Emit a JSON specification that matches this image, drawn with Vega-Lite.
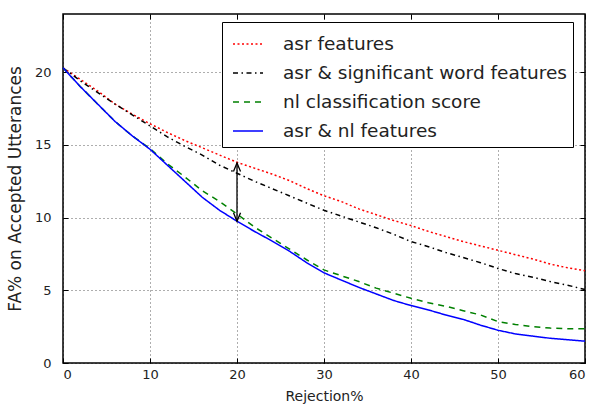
{
"$schema": "https://vega.github.io/schema/vega-lite/v6.json",
"width": 522, "height": 349,
"autosize": {"type": "none"},
"padding": {"left": 63, "top": 14, "right": 11, "bottom": 42},
"config": {
  "view": {"stroke": "black", "strokeWidth": 1.5},
  "font": "DejaVu Sans",
  "axis": {"domain": false, "tickColor": "black", "tickSize": -5, "tickWidth": 1, "labelColor": "#222", "labelFontSize": 13, "titleFontSize": 14, "titleFontWeight": "normal", "titleColor": "#222", "labelFont": "DejaVu Sans", "titleFont": "DejaVu Sans"}
},
"datasets": {
  "curves": [
    {"x":0,"y":20.3,"s":"asr features"},{"x":2,"y":19.5,"s":"asr features"},{"x":4,"y":18.7,"s":"asr features"},{"x":6,"y":17.8,"s":"asr features"},{"x":8,"y":17.1,"s":"asr features"},{"x":10,"y":16.45,"s":"asr features"},{"x":12,"y":15.85,"s":"asr features"},{"x":14,"y":15.3,"s":"asr features"},{"x":16,"y":14.8,"s":"asr features"},{"x":18,"y":14.3,"s":"asr features"},{"x":20,"y":13.8,"s":"asr features"},{"x":22,"y":13.4,"s":"asr features"},{"x":24,"y":13.0,"s":"asr features"},{"x":26,"y":12.55,"s":"asr features"},{"x":28,"y":12.0,"s":"asr features"},{"x":30,"y":11.5,"s":"asr features"},{"x":32,"y":11.1,"s":"asr features"},{"x":34,"y":10.6,"s":"asr features"},{"x":36,"y":10.2,"s":"asr features"},{"x":38,"y":9.8,"s":"asr features"},{"x":40,"y":9.45,"s":"asr features"},{"x":42,"y":9.05,"s":"asr features"},{"x":44,"y":8.7,"s":"asr features"},{"x":46,"y":8.35,"s":"asr features"},{"x":48,"y":8.05,"s":"asr features"},{"x":50,"y":7.75,"s":"asr features"},{"x":52,"y":7.45,"s":"asr features"},{"x":54,"y":7.15,"s":"asr features"},{"x":56,"y":6.8,"s":"asr features"},{"x":58,"y":6.55,"s":"asr features"},{"x":60,"y":6.35,"s":"asr features"},
    {"x":0,"y":20.3,"s":"asr & significant word features"},{"x":2,"y":19.4,"s":"asr & significant word features"},{"x":4,"y":18.6,"s":"asr & significant word features"},{"x":6,"y":17.8,"s":"asr & significant word features"},{"x":8,"y":17.05,"s":"asr & significant word features"},{"x":10,"y":16.3,"s":"asr & significant word features"},{"x":12,"y":15.55,"s":"asr & significant word features"},{"x":14,"y":14.9,"s":"asr & significant word features"},{"x":16,"y":14.3,"s":"asr & significant word features"},{"x":18,"y":13.6,"s":"asr & significant word features"},{"x":20,"y":13.05,"s":"asr & significant word features"},{"x":22,"y":12.5,"s":"asr & significant word features"},{"x":24,"y":12.0,"s":"asr & significant word features"},{"x":26,"y":11.5,"s":"asr & significant word features"},{"x":28,"y":11.0,"s":"asr & significant word features"},{"x":30,"y":10.5,"s":"asr & significant word features"},{"x":32,"y":10.1,"s":"asr & significant word features"},{"x":34,"y":9.7,"s":"asr & significant word features"},{"x":36,"y":9.3,"s":"asr & significant word features"},{"x":38,"y":8.85,"s":"asr & significant word features"},{"x":40,"y":8.35,"s":"asr & significant word features"},{"x":42,"y":8.0,"s":"asr & significant word features"},{"x":44,"y":7.6,"s":"asr & significant word features"},{"x":46,"y":7.25,"s":"asr & significant word features"},{"x":48,"y":6.9,"s":"asr & significant word features"},{"x":50,"y":6.5,"s":"asr & significant word features"},{"x":52,"y":6.15,"s":"asr & significant word features"},{"x":54,"y":5.9,"s":"asr & significant word features"},{"x":56,"y":5.6,"s":"asr & significant word features"},{"x":58,"y":5.35,"s":"asr & significant word features"},{"x":60,"y":5.05,"s":"asr & significant word features"},
    {"x":0,"y":20.3,"s":"nl classification score"},{"x":2,"y":19.0,"s":"nl classification score"},{"x":4,"y":17.8,"s":"nl classification score"},{"x":6,"y":16.6,"s":"nl classification score"},{"x":8,"y":15.6,"s":"nl classification score"},{"x":10,"y":14.75,"s":"nl classification score"},{"x":12,"y":13.7,"s":"nl classification score"},{"x":14,"y":12.8,"s":"nl classification score"},{"x":16,"y":11.85,"s":"nl classification score"},{"x":18,"y":11.1,"s":"nl classification score"},{"x":20,"y":10.25,"s":"nl classification score"},{"x":22,"y":9.35,"s":"nl classification score"},{"x":24,"y":8.6,"s":"nl classification score"},{"x":26,"y":7.85,"s":"nl classification score"},{"x":28,"y":7.1,"s":"nl classification score"},{"x":30,"y":6.4,"s":"nl classification score"},{"x":32,"y":6.0,"s":"nl classification score"},{"x":34,"y":5.6,"s":"nl classification score"},{"x":36,"y":5.15,"s":"nl classification score"},{"x":38,"y":4.8,"s":"nl classification score"},{"x":40,"y":4.45,"s":"nl classification score"},{"x":42,"y":4.15,"s":"nl classification score"},{"x":44,"y":3.9,"s":"nl classification score"},{"x":46,"y":3.6,"s":"nl classification score"},{"x":48,"y":3.3,"s":"nl classification score"},{"x":50,"y":2.85,"s":"nl classification score"},{"x":52,"y":2.65,"s":"nl classification score"},{"x":54,"y":2.5,"s":"nl classification score"},{"x":56,"y":2.4,"s":"nl classification score"},{"x":58,"y":2.35,"s":"nl classification score"},{"x":60,"y":2.35,"s":"nl classification score"},
    {"x":0,"y":20.3,"s":"asr & nl features"},{"x":2,"y":19.0,"s":"asr & nl features"},{"x":4,"y":17.8,"s":"asr & nl features"},{"x":6,"y":16.6,"s":"asr & nl features"},{"x":8,"y":15.6,"s":"asr & nl features"},{"x":10,"y":14.7,"s":"asr & nl features"},{"x":12,"y":13.6,"s":"asr & nl features"},{"x":14,"y":12.5,"s":"asr & nl features"},{"x":16,"y":11.4,"s":"asr & nl features"},{"x":18,"y":10.5,"s":"asr & nl features"},{"x":20,"y":9.75,"s":"asr & nl features"},{"x":22,"y":9.05,"s":"asr & nl features"},{"x":24,"y":8.4,"s":"asr & nl features"},{"x":26,"y":7.7,"s":"asr & nl features"},{"x":28,"y":6.9,"s":"asr & nl features"},{"x":30,"y":6.2,"s":"asr & nl features"},{"x":32,"y":5.7,"s":"asr & nl features"},{"x":34,"y":5.2,"s":"asr & nl features"},{"x":36,"y":4.75,"s":"asr & nl features"},{"x":38,"y":4.3,"s":"asr & nl features"},{"x":40,"y":3.95,"s":"asr & nl features"},{"x":42,"y":3.65,"s":"asr & nl features"},{"x":44,"y":3.3,"s":"asr & nl features"},{"x":46,"y":3.0,"s":"asr & nl features"},{"x":48,"y":2.6,"s":"asr & nl features"},{"x":50,"y":2.25,"s":"asr & nl features"},{"x":52,"y":2.0,"s":"asr & nl features"},{"x":54,"y":1.85,"s":"asr & nl features"},{"x":56,"y":1.7,"s":"asr & nl features"},{"x":58,"y":1.6,"s":"asr & nl features"},{"x":60,"y":1.5,"s":"asr & nl features"}
  ],
  "arrow": [{"x":20,"y":9.75,"y2":13.75}],
  "heads": [{"x":20,"y":13.75,"h":"up"},{"x":20,"y":9.75,"h":"down"}]
},
"layer": [
  {
    "data": {"name": "curves"},
    "mark": {"type": "line", "strokeWidth": 1.5},
    "encoding": {
      "x": {"field": "x", "type": "quantitative", "scale": {"domain": [0, 60], "nice": false},
            "axis": {"orient": "bottom", "values": [0,10,20,30,40,50,60], "title": "Rejection%", "grid": true, "gridColor": "black", "gridDash": [1,3], "gridOpacity": 0.8, "gridWidth": 0.8, "labelPadding": 10, "titlePadding": 8}},
      "y": {"field": "y", "type": "quantitative", "scale": {"domain": [0, 24], "nice": false},
            "axis": {"orient": "left", "values": [0,5,10,15,20], "title": "FA% on Accepted Utterances", "titleFontSize": 17, "grid": true, "gridColor": "black", "gridDash": [1,3], "gridOpacity": 0.8, "gridWidth": 0.8, "labelPadding": 17, "titlePadding": 10}},
      "color": {"field": "s", "type": "nominal",
        "scale": {"domain": ["asr features","asr & significant word features","nl classification score","asr & nl features"], "range": ["#ff0000","#000000","#008000","#0000ff"]},
        "legend": {"orient": "none", "legendX": 159, "legendY": 8, "title": null, "symbolType": "stroke", "symbolSize": 900, "symbolStrokeWidth": 1.5, "symbolOffset": 4, "labelFontSize": 18.5, "labelLimit": 0, "labelColor": "#222", "labelFont": "DejaVu Sans", "fillColor": "white", "strokeColor": "black", "padding": 6, "rowPadding": 3, "labelOffset": 19, "cornerRadius": 0}},
      "strokeDash": {"field": "s", "type": "nominal",
        "scale": {"domain": ["asr features","asr & significant word features","nl classification score","asr & nl features"], "range": [[2,2.5],[5,3.5,1.5,3.5],[6,5],[1,0]]},
        "legend": {"orient": "none", "legendX": 159, "legendY": 8, "title": null, "symbolType": "stroke", "symbolSize": 900, "symbolStrokeWidth": 1.5, "symbolOffset": 4, "labelFontSize": 18.5, "labelLimit": 0, "labelColor": "#222", "labelFont": "DejaVu Sans", "fillColor": "white", "strokeColor": "black", "padding": 6, "rowPadding": 3, "labelOffset": 19, "cornerRadius": 0}}
    }
  },
  {
    "data": {"name": "arrow"},
    "mark": {"type": "rule", "color": "black", "strokeWidth": 1.3},
    "encoding": {
      "x": {"field": "x", "type": "quantitative", "axis": {"orient": "top", "values": [0,10,20,30,40,50,60], "labels": false, "title": null, "grid": false}},
      "y": {"field": "y", "type": "quantitative", "axis": {"orient": "right", "values": [0,5,10,15,20], "labels": false, "title": null, "grid": false}},
      "y2": {"field": "y2"}
    }
  },
  {
    "data": {"name": "heads"},
    "mark": {"type": "point", "filled": false, "stroke": "black", "strokeWidth": 1.3, "size": 200, "opacity": 1},
    "encoding": {
      "x": {"field": "x", "type": "quantitative", "axis": null},
      "y": {"field": "y", "type": "quantitative", "axis": null},
      "shape": {"field": "h", "type": "nominal", "scale": {"domain": ["up","down"], "range": ["M-0.5,1.2L0,0L0.5,1.2", "M-0.5,-1.2L0,0L0.5,-1.2"]}, "legend": null}
    }
  }
],
"resolve": {"axis": {"x": "independent", "y": "independent"}}
}
